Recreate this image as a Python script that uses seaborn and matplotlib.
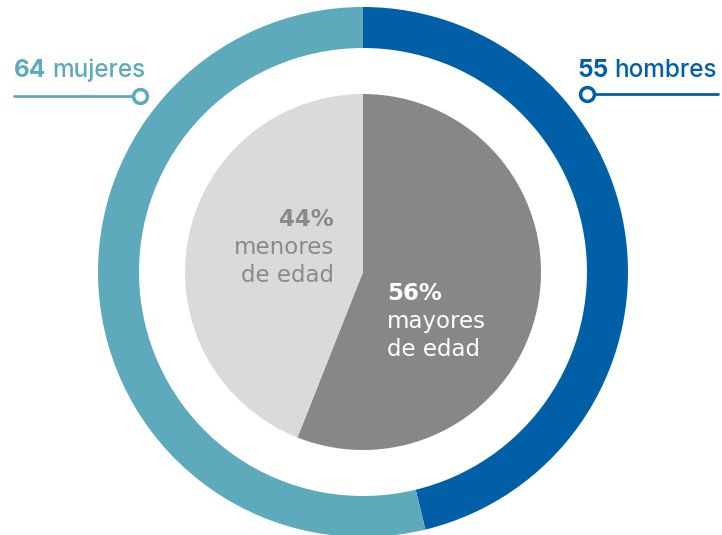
import matplotlib
matplotlib.use("Agg")
import matplotlib.pyplot as plt
import seaborn as sns

sns.set_theme(style="white")
plt.rcParams['font.family'] = ['Inter', 'DejaVu Sans']

# datos
genero = ['hombres', 'mujeres']
genero_valores = [55, 64]
genero_colores = ['#005FA6', '#5EAABD']

edad = ['mayores de edad', 'menores de edad']
edad_pct = [56, 44]
edad_colores = ['#878787', '#DADADA']

W, H = 722, 535
fig = plt.figure(figsize=(W / 100, H / 100), dpi=100)
ax = fig.add_axes([0, 0, 1, 1])
ax.set_xlim(0, W)
ax.set_ylim(0, H)
ax.set_aspect('equal')
ax.axis('off')

cx, cy = 363, H - 272

# anillo exterior: hombres / mujeres
ax.pie(genero_valores, colors=genero_colores, startangle=90, counterclock=False,
       radius=265, center=(cx, cy), wedgeprops=dict(width=41, linewidth=0))

# pastel interior: mayores / menores
ax.pie(edad_pct, colors=edad_colores, startangle=90, counterclock=False,
       radius=178, center=(cx, cy), wedgeprops=dict(linewidth=0))

ax.set_xlim(0, W)
ax.set_ylim(0, H)

fig.canvas.draw()
renderer = fig.canvas.get_renderer()


def etiqueta(x, y, numero, palabra, color, ha='left', size=17.5):
    # numero en negrita + palabra normal
    if ha == 'left':
        t = ax.text(x, y, numero, color=color, fontsize=size, fontweight='bold', va='baseline', ha='left')
        bb = t.get_window_extent(renderer)
        ax.text(bb.x1 + 6, y, palabra, color=color, fontsize=size, fontweight='medium', va='baseline', ha='left')
    else:
        t = ax.text(x, y, palabra, color=color, fontsize=size, fontweight='medium', va='baseline', ha='right')
        bb = t.get_window_extent(renderer)
        ax.text(bb.x0 - 6, y, numero, color=color, fontsize=size, fontweight='bold', va='baseline', ha='right')


# mujeres (izquierda)
etiqueta(14, H - 77, str(genero_valores[1]), genero[1], genero_colores[1])
ax.plot([14, 140], [H - 96, H - 96], color=genero_colores[1], lw=2)
ax.plot(140, H - 96, 'o', ms=10, mfc='white', mec=genero_colores[1], mew=2.5)

# hombres (derecha)
etiqueta(717, H - 77, str(genero_valores[0]), genero[0], genero_colores[0], ha='right')
ax.plot([587, 718], [H - 94, H - 94], color=genero_colores[0], lw=2)
ax.plot(587, H - 94, 'o', ms=10, mfc='white', mec=genero_colores[0], mew=2.5)

# textos del pastel interior
gris = '#8A8A8A'
fam = ['DejaVu Sans']
fs = 16.5
ax.text(334, H - 226, f'{edad_pct[1]}%', color=gris, fontsize=fs, fontweight='bold', ha='right', va='baseline', family=fam)
ax.text(334, H - 254, 'menores', color=gris, fontsize=fs, ha='right', va='baseline', family=fam)
ax.text(334, H - 282, 'de edad', color=gris, fontsize=fs, ha='right', va='baseline', family=fam)

ax.text(387, H - 300, f'{edad_pct[0]}%', color='white', fontsize=fs, fontweight='bold', ha='left', va='baseline', family=fam)
ax.text(387, H - 328, 'mayores', color='white', fontsize=fs, ha='left', va='baseline', family=fam)
ax.text(387, H - 356, 'de edad', color='white', fontsize=fs, ha='left', va='baseline', family=fam)

fig.savefig('out.png', dpi=100, facecolor='white')
